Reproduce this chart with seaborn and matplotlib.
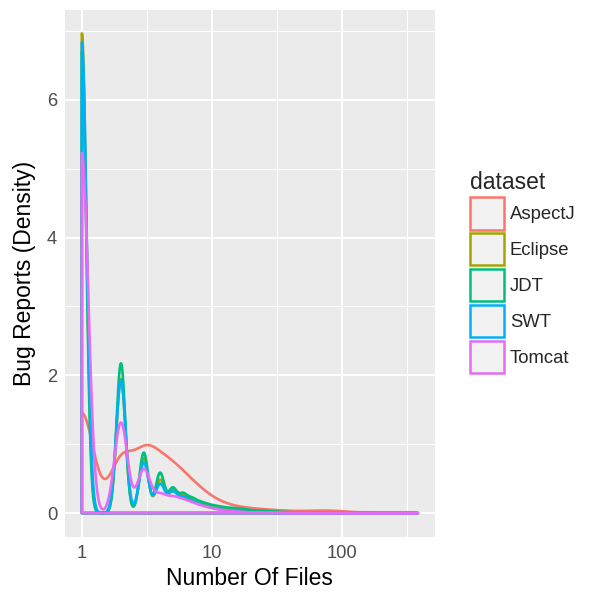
import numpy as np
import pandas as pd
import matplotlib
matplotlib.use("Agg")
import matplotlib.pyplot as plt
import matplotlib.patches as mpatches
from matplotlib.ticker import FixedLocator, NullFormatter
import seaborn as sns

# number of files fixed per bug report (log-scaled x axis)
n_files = [1, 2, 3, 4, 5, 6, 7, 8, 9, 10, 11, 12, 13, 14, 15, 16, 17, 18, 19, 20,
           22, 24, 26, 28, 30, 33, 36, 40, 45, 50, 60, 70, 80, 100, 130, 170, 230, 386]

# share of bug reports (%) per number of files
aspectj = [33.5, 17, 16, 10, 7, 4.7, 3.1, 2.2, 1.5, 1.0, 0.75, 0.58, 0.44, 0.36, 0.30, 0.26, 0.23, 0.21, 0.19, 0.17,
           0.28, 0.23, 0.20, 0.16, 0.16, 0.16, 0.15, 0.15, 0.14, 0.19, 0.25, 0.25, 0.32, 0.32, 0.12, 0.06, 0.05, 0.02]
eclipse = [61.2, 17.1, 7.0, 4.2, 2.8, 1.96, 1.31, 0.87, 0.63, 0.48, 0.36, 0.29, 0.23, 0.20, 0.17, 0.15, 0.13, 0.11, 0.09, 0.08,
           0.12, 0.10, 0.08, 0.06, 0.06, 0.06, 0.05, 0.05, 0.04, 0.04, 0.04, 0.02, 0.02, 0.02, 0.02, 0.01, 0.01, 0.01]
jdt = [58.8, 19.1, 7.7, 5.1, 3.05, 2.18, 1.49, 0.98, 0.73, 0.52, 0.44, 0.34, 0.28, 0.25, 0.22, 0.19, 0.17, 0.15, 0.13, 0.11,
       0.18, 0.14, 0.12, 0.09, 0.09, 0.08, 0.07, 0.07, 0.05, 0.06, 0.05, 0.03, 0.03, 0.03, 0.02, 0.01, 0.01, 0.01]
swt = [62.7, 17.6, 6.7, 3.8, 2.6, 1.74, 1.12, 0.71, 0.48, 0.31, 0.24, 0.18, 0.13, 0.11, 0.09, 0.07, 0.05, 0.04, 0.03, 0.03,
       0.04, 0.03, 0.02, 0.02, 0.02, 0.02, 0.01, 0.01, 0.01, 0.01, 0.01, 0.01, 0.0, 0.01, 0.0, 0.0, 0.0, 0.0]
tomcat = [64.9, 16.3, 7.8, 2.95, 2.18, 1.52, 1.0, 0.65, 0.44, 0.31, 0.22, 0.16, 0.12, 0.09, 0.07, 0.05, 0.04, 0.03, 0.03, 0.02,
          0.03, 0.03, 0.02, 0.02, 0.02, 0.01, 0.01, 0.01, 0.01, 0.01, 0.01, 0.01, 0.01, 0.01, 0.0, 0.0, 0.0, 0.01]

datasets = ["AspectJ", "Eclipse", "JDT", "SWT", "Tomcat"]
shares = [aspectj, eclipse, jdt, swt, tomcat]
# kernel bandwidth in log10 units (ggplot computes one per group)
bandwidths = [0.09, 0.035, 0.034, 0.037, 0.05]
colors = ["#F8766D", "#A3A500", "#00BF7D", "#00B0F6", "#E76BF3"]

sns.set_theme(style="darkgrid", rc={
    "axes.facecolor": "#EBEBEB",
    "grid.color": "white",
    "axes.edgecolor": "none",
})
plt.rcParams["font.family"] = ["Liberation Sans", "DejaVu Sans"]

fig = plt.figure(figsize=(6, 6), dpi=100)
ax = fig.add_axes([0.108, 0.105, 0.617, 0.878])

log_files = np.log10(n_files)
for name, share, bw, col in zip(datasets, shares, bandwidths, colors):
    w = np.array(share, dtype=float)
    sd = np.sqrt(np.cov(log_files, aweights=w))
    sns.kdeplot(x=n_files, weights=w, log_scale=True, cut=0, gridsize=3000,
                bw_method=bw / sd, fill=True, color=col, facecolor="none",
                edgecolor=col, linewidth=1.9, alpha=1, ax=ax, label=name)

ax.set_xlim(10 ** -0.131, 10 ** 2.718)
ax.set_ylim(-0.347, 7.30)

ax.xaxis.set_major_locator(FixedLocator([1, 10, 100]))
ax.set_xticklabels(["1", "10", "100"])
ax.xaxis.set_minor_locator(FixedLocator([10 ** 0.5, 10 ** 1.5, 10 ** 2.5]))
ax.xaxis.set_minor_formatter(NullFormatter())
ax.yaxis.set_major_locator(FixedLocator([0, 2, 4, 6]))
ax.yaxis.set_minor_locator(FixedLocator([1, 3, 5, 7]))

ax.grid(which="major", color="white", linewidth=1.5)
ax.grid(which="minor", color="white", linewidth=0.75)
ax.tick_params(which="major", length=3.6, width=1.1, color="#333333",
               labelcolor="#4D4D4D", labelsize=13.2, pad=2)
ax.tick_params(which="minor", length=0)
for s in ax.spines.values():
    s.set_visible(False)

ax.set_xlabel("Number Of Files", fontsize=16.5, color="black", labelpad=4)
ax.set_ylabel("Bug Reports (Density)", fontsize=16.5, color="black", labelpad=8)

handles = [mpatches.Patch(facecolor="#F2F2F2", edgecolor=c, linewidth=1.8, label=n)
           for n, c in zip(datasets, colors)]
leg = fig.legend(handles=handles, title="dataset", loc="center left",
                 bbox_to_anchor=(0.768, 0.547), frameon=False, fontsize=13.3,
                 title_fontsize=16.5, handlelength=1.85, handleheight=2.3,
                 labelspacing=0.2, handletextpad=0.3, borderpad=0,
                 alignment="left")

fig.savefig("out.png", dpi=100)
